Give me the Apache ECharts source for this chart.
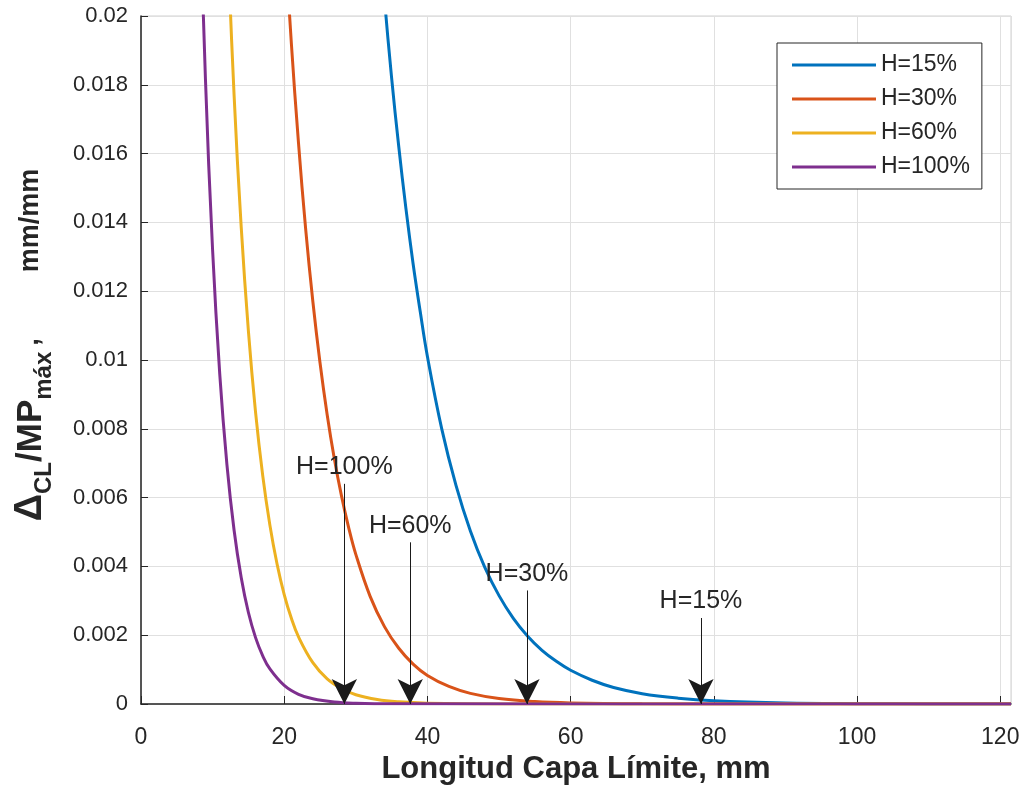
<!DOCTYPE html>
<html>
<head>
<meta charset="utf-8">
<script src="https://cdn.jsdelivr.net/npm/echarts@6/dist/echarts.min.js"></script>
<style>
  html, body { margin: 0; padding: 0; background: #fff; }
  #chart { width: 1025px; height: 795px; }
</style>
</head>
<body>
<div id="chart"></div>
<script>
// Curves: x = boundary layer length (mm), y = Δ/MP (mm/mm)
const x15 = [33, 34, 35, 36, 37, 38, 39, 40, 42, 44, 46, 48, 50, 52, 54, 56, 58, 60, 63, 66, 70, 75, 80, 90, 100, 110, 121.5];
const y15 = [0.0230, 0.0205, 0.0182, 0.0162, 0.0144, 0.0128, 0.0114, 0.0101, 0.0080, 0.00635, 0.00503, 0.00398, 0.00315, 0.00249, 0.00197, 0.00156, 0.00124, 0.00098, 0.00069, 0.00048, 0.00030, 0.00017, 0.000094, 0.000029, 0.000009, 0.000003, 0.000001];

const x30 = [20, 21, 22, 23, 24, 25, 26, 27, 28, 29, 30, 32, 34, 36, 38, 40, 43, 46, 50, 55, 60, 70, 80, 121.5];
const y30 = [0.0226, 0.0192, 0.0163, 0.0138, 0.0117, 0.00992, 0.00841, 0.00713, 0.00605, 0.00513, 0.00435, 0.00313, 0.00225, 0.00162, 0.00116, 0.00083, 0.00051, 0.00031, 0.00016, 0.00007, 0.000031, 0.000006, 0.000001, 0];

const x60 = [12, 13, 14, 15, 16, 17, 18, 19, 20, 21, 22, 24, 26, 28, 30, 33, 36, 40, 50, 121.5];
const y60 = [0.0226, 0.0177, 0.01385, 0.01084, 0.00848, 0.00664, 0.0052, 0.00407, 0.00318, 0.00249, 0.00195, 0.0012, 0.00073, 0.00045, 0.00027, 0.00013, 0.000063, 0.000024, 0.000002, 0];

const x100 = [8, 9, 10, 11, 12, 13, 14, 15, 16, 17, 18, 20, 22, 24, 27, 30, 35, 121.5];
const y100 = [0.0250, 0.01817, 0.01319, 0.00958, 0.00696, 0.00505, 0.00367, 0.00266, 0.00193, 0.0014, 0.00102, 0.00054, 0.00028, 0.00015, 0.000057, 0.000022, 0.000004, 0];

const seriesNames = ['H=15%', 'H=30%', 'H=60%', 'H=100%'];
const seriesColors = ['#0072BD', '#D95319', '#EDB120', '#7E2F8E'];

// Arrow annotations
const arrowText = ['H=100%', 'H=60%', 'H=30%', 'H=15%'];
const arrowX = [28.4, 37.6, 53.9, 78.2];
const arrowTop = [0.0064, 0.0047, 0.0033, 0.0025];

const font = 'Liberation Sans, Arial, Helvetica, sans-serif';
const ink = '#262626';

const xs = [x15, x30, x60, x100];
const ys = [y15, y30, y60, y100];

const series = seriesNames.map((name, k) => ({
  name,
  type: 'line',
  data: xs[k].map((x, i) => [x, ys[k][i]]),
  symbol: 'none',
  smooth: 0.4,
  lineStyle: { width: 3, color: seriesColors[k] },
  itemStyle: { color: seriesColors[k] },
  emphasis: { disabled: true }
}));

series.push({
  name: 'arrows',
  type: 'line',
  data: [],
  silent: true,
  markLine: {
    silent: true,
    animation: false,
    symbol: ['none', 'arrow'],
    symbolSize: [19, 25],
    lineStyle: { color: '#1a1a1a', width: 1, type: 'solid' },
    label: {
      show: true,
      position: 'start',
      formatter: '{b}',
      color: ink,
      fontSize: 25,
      fontFamily: font,
      distance: 4
    },
    emphasis: { disabled: true },
    data: arrowX.map((x, i) => [
      { name: arrowText[i], coord: [x, arrowTop[i]] },
      { coord: [x, 0] }
    ])
  }
});

const chart = echarts.init(document.getElementById('chart'));
chart.setOption({
  animation: false,
  backgroundColor: '#fff',
  textStyle: { fontFamily: font },
  grid: {
    left: 141, right: 14, top: 16, bottom: 91,
    outerBoundsMode: 'none',
    containLabel: false,
    show: true, borderColor: '#d0d0d0', borderWidth: 1
  },
  legend: {
    data: seriesNames,
    orient: 'vertical',
    left: 777,
    top: 43,
    padding: [10, 12, 10, 15],
    icon: 'rect',
    itemWidth: 84,
    itemHeight: 3,
    itemGap: 10,
    backgroundColor: '#fff',
    borderColor: ink,
    borderWidth: 1,
    selectedMode: false,
    textStyle: { fontSize: 23, color: ink, lineHeight: 24, fontFamily: font }
  },
  xAxis: {
    type: 'value',
    min: 0,
    max: 121.5,
    interval: 20,
    name: 'Longitud Capa Límite, mm',
    nameLocation: 'middle',
    nameGap: 46,
    nameTextStyle: { fontSize: 31, fontWeight: 'bold', color: ink, fontFamily: font },
    axisLine: { lineStyle: { color: ink, width: 1.5 } },
    axisTick: { inside: true, length: 8, lineStyle: { color: ink } },
    axisLabel: {
      fontSize: 23, color: ink, margin: 22, showMaxLabel: false,
      formatter: v => (v % 20 === 0 ? String(v) : '')
    },
    splitLine: { show: true, lineStyle: { color: '#e0e0e0', width: 1 } }
  },
  yAxis: {
    type: 'value',
    min: 0,
    max: 0.02,
    interval: 0.002,
    name: '{d|Δ}{s|CL}{p|/MP}{s|máx}{c|,}{m|mm/mm}',
    nameLocation: 'middle',
    nameGap: 90,
    nameTextStyle: {
      color: ink,
      rich: {
        d: { fontSize: 38, fontWeight: 'bold', color: ink, lineHeight: 40, padding: [0, 0, 0, 30], fontFamily: font },
        p: { fontSize: 35, fontWeight: 'bold', color: ink, lineHeight: 40, fontFamily: font },
        s: { fontSize: 24, fontWeight: 'bold', color: ink, lineHeight: 24, padding: [26, 0, 0, 0], fontFamily: font },
        c: { fontSize: 27, fontWeight: 'bold', color: ink, lineHeight: 40, padding: [0, 66, 0, 6], fontFamily: font },
        m: { fontSize: 27, fontWeight: 'bold', color: ink, lineHeight: 40, fontFamily: font }
      }
    },
    axisLine: { show: true, lineStyle: { color: ink, width: 1.5 } },
    axisTick: { show: true, inside: true, length: 7, lineStyle: { color: ink } },
    axisLabel: { fontSize: 22, color: ink, margin: 13 },
    splitLine: { show: true, lineStyle: { color: '#e0e0e0', width: 1 } }
  },
  series
});
</script>
</body>
</html>
